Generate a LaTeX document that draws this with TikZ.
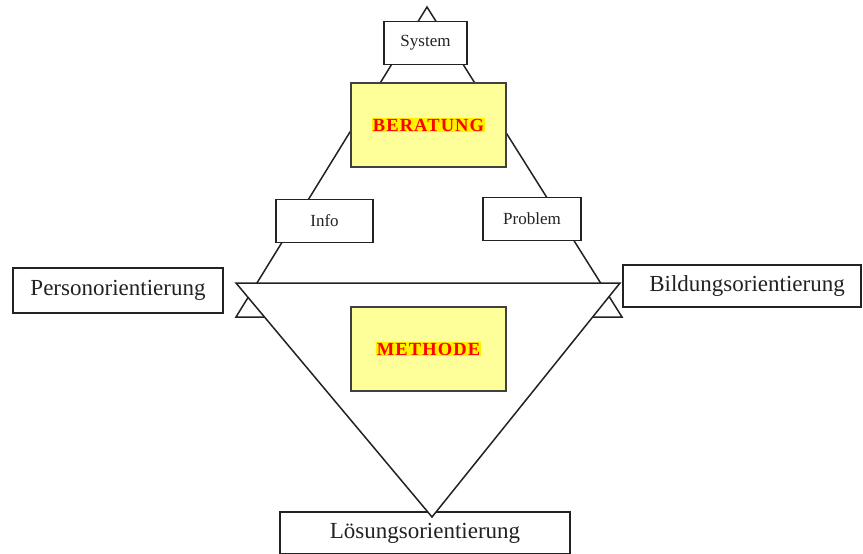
\documentclass[tikz,border=0pt]{standalone}
\usepackage{fontspec}
\setmainfont{Liberation Serif}
\definecolor{paleyellow}{HTML}{FFFF99}
\definecolor{inkgray}{HTML}{222222}
\setlength{\fboxsep}{1pt}

\begin{document}
\begin{tikzpicture}[x=1pt,y=-1pt]
    \tikzstyle{smallbox}=[draw=inkgray, fill=white, line width=1.8pt, inner sep=0pt, text=inkgray, font=\fontsize{17}{19}\selectfont, minimum height=43pt]
    \tikzstyle{orientbox}=[smallbox, font=\fontsize{23}{26}\selectfont]
    \tikzstyle{corebox}=[draw=black!75, fill=paleyellow, line width=1.8pt, minimum width=155pt, minimum height=84pt, text=red, font=\fontsize{18.5}{20}\selectfont\bfseries\addfontfeature{LetterSpace=6}]
    \tikzstyle{tri}=[draw=inkgray, fill=white, line width=1.5pt, line join=miter]
    \useasboundingbox (0,0) rectangle (863,554);

    \coordinate (uptop) at (427,7);
    \coordinate (upleft) at (236,317);
    \coordinate (upright) at (622,317);
    \coordinate (downleft) at (236,283);
    \coordinate (downright) at (620,283);
    \coordinate (downtip) at (432,517);

    \draw[tri] (uptop) -- (upright) -- (upleft) -- cycle;

    \node[smallbox, minimum width=83pt] (system) at (425.5,43) {System};
    \node[corebox] (beratung) at (428.5,125) {\colorbox{yellow}{BERATUNG}};
    \node[smallbox, minimum width=97pt] (info) at (324.5,221) {Info};
    \node[smallbox, minimum width=98pt] (problem) at (532,219) {Problem};
    \node[orientbox, minimum width=290pt, minimum height=42pt] (loesung) at (425,533) {Lösungsorientierung};

    \draw[tri] (downleft) -- (downright) -- (downtip) -- cycle;

    \node[corebox] (methode) at (428.5,349) {\colorbox{yellow}{METHODE}};
    \node[orientbox, minimum width=210pt, minimum height=45pt] (person) at (118,290.5) {Personorientierung};
    \node[orientbox, minimum width=238pt, minimum height=42pt] (bildung) at (742,286) {\hspace{10pt}Bildungsorientierung};
\end{tikzpicture}
\end{document}
